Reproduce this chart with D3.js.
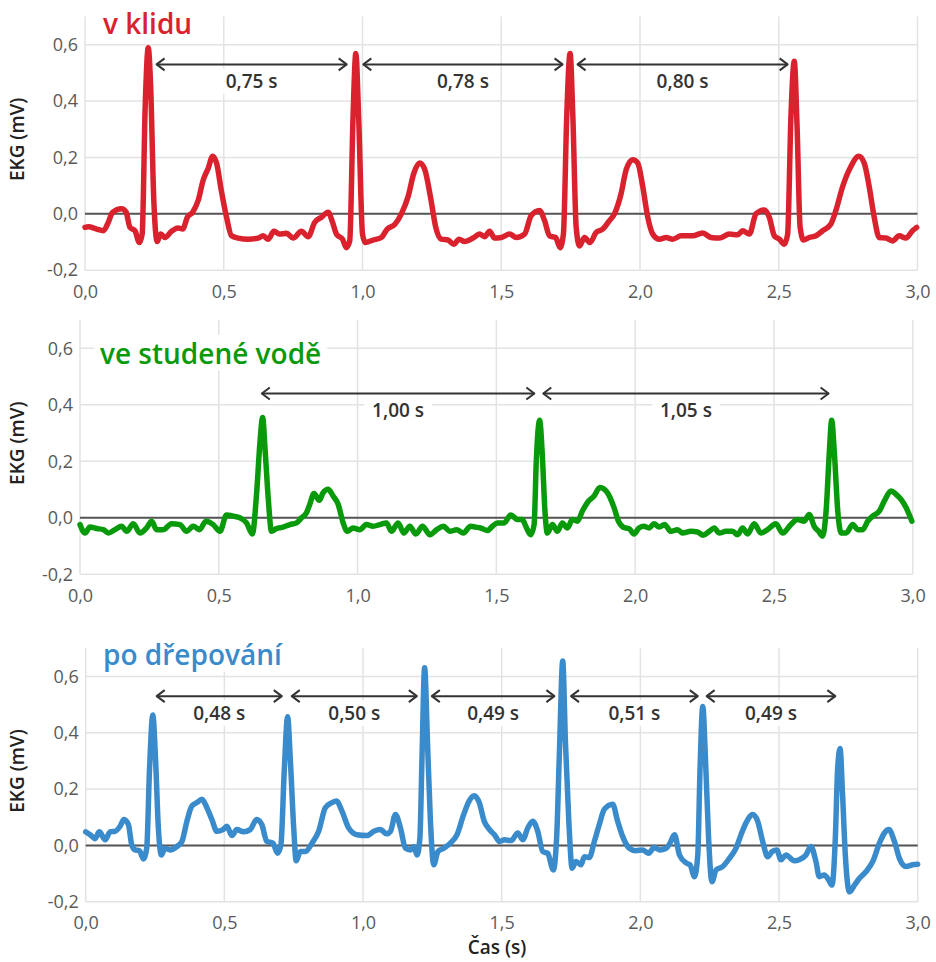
<!DOCTYPE html>
<html>
<head>
<meta charset="utf-8">
<script src="https://cdn.jsdelivr.net/npm/d3@7"></script>
<style>
  html, body { margin: 0; padding: 0; background: #ffffff; }
  svg { display: block; }
  text { font-family: "Open Sans", "Noto Sans", "DejaVu Sans", sans-serif; }
</style>
</head>
<body>
<svg id="chart" width="936" height="962"></svg>
<script>
// ---------------- DATA ----------------
const panelTitles = ["v klidu", "ve studené vodě", "po dřepování"];
const xTicks = [0, 0.5, 1.0, 1.5, 2.0, 2.5, 3.0];
const yTicks = [-0.2, 0.0, 0.2, 0.4, 0.6];
const yLabel = "EKG (mV)";
const xLabel = "Čas (s)";

// v klidu : [time (s), EKG (mV)]
const restData = [
[0.000,-0.048],[0.012,-0.046],[0.042,-0.054],[0.066,-0.060],[0.084,-0.030],[0.096,0.000],[0.114,0.014],[0.132,0.018],
[0.148,0.006],[0.162,-0.048],[0.180,-0.060],[0.196,-0.102],[0.206,-0.072],[0.217,0.383],[0.228,0.589],[0.236,0.467],
[0.248,0.048],[0.260,-0.098],[0.273,-0.072],[0.288,-0.084],[0.312,-0.062],[0.336,-0.050],[0.352,-0.054],[0.369,-0.012],
[0.388,0.006],[0.408,0.048],[0.426,0.120],[0.444,0.162],[0.460,0.204],[0.474,0.180],[0.492,0.078],[0.510,-0.012],
[0.528,-0.078],[0.552,-0.086],[0.588,-0.090],[0.624,-0.086],[0.642,-0.078],[0.660,-0.090],[0.681,-0.062],[0.702,-0.072],
[0.726,-0.069],[0.750,-0.086],[0.780,-0.062],[0.804,-0.081],[0.828,-0.030],[0.852,-0.012],[0.876,0.006],[0.892,-0.030],
[0.906,-0.072],[0.928,-0.090],[0.942,-0.120],[0.954,-0.096],[0.966,0.347],[0.976,0.569],[0.986,0.347],[1.000,-0.072],
[1.010,-0.102],[1.038,-0.093],[1.068,-0.084],[1.089,-0.054],[1.116,-0.038],[1.140,0.000],[1.164,0.060],[1.185,0.144],
[1.206,0.180],[1.224,0.158],[1.245,0.060],[1.264,-0.048],[1.284,-0.090],[1.308,-0.093],[1.329,-0.108],[1.348,-0.090],
[1.368,-0.098],[1.398,-0.086],[1.422,-0.072],[1.440,-0.081],[1.458,-0.062],[1.476,-0.086],[1.500,-0.084],[1.530,-0.072],
[1.554,-0.084],[1.584,-0.072],[1.608,-0.006],[1.638,0.012],[1.656,-0.024],[1.674,-0.078],[1.696,-0.084],[1.712,-0.120],
[1.724,-0.072],[1.736,0.347],[1.748,0.569],[1.758,0.347],[1.770,-0.048],[1.782,-0.114],[1.800,-0.084],[1.820,-0.102],
[1.842,-0.066],[1.866,-0.054],[1.890,-0.024],[1.908,0.000],[1.932,0.072],[1.950,0.156],[1.974,0.192],[1.992,0.180],
[2.010,0.096],[2.028,-0.012],[2.046,-0.072],[2.070,-0.090],[2.094,-0.084],[2.118,-0.090],[2.148,-0.078],[2.190,-0.078],
[2.226,-0.068],[2.256,-0.084],[2.286,-0.086],[2.322,-0.072],[2.352,-0.074],[2.370,-0.060],[2.394,-0.072],[2.418,0.000],
[2.448,0.014],[2.466,-0.012],[2.484,-0.078],[2.502,-0.090],[2.520,-0.108],[2.532,-0.072],[2.544,0.347],[2.556,0.541],
[2.566,0.311],[2.577,-0.048],[2.589,-0.093],[2.610,-0.084],[2.634,-0.078],[2.658,-0.060],[2.688,-0.036],[2.706,0.012],
[2.730,0.096],[2.760,0.168],[2.788,0.204],[2.808,0.180],[2.826,0.096],[2.844,-0.012],[2.862,-0.084],[2.886,-0.086],
[2.910,-0.096],[2.934,-0.078],[2.958,-0.086],[2.982,-0.060],[2.997,-0.048]
];

// ve studené vodě
const coldData = [
[0.000,-0.024],[0.018,-0.054],[0.036,-0.033],[0.060,-0.038],[0.084,-0.042],[0.102,-0.054],[0.126,-0.042],[0.150,-0.030],
[0.168,-0.048],[0.192,-0.021],[0.216,-0.054],[0.240,-0.036],[0.258,-0.012],[0.276,-0.042],[0.300,-0.042],[0.330,-0.021],
[0.360,-0.024],[0.384,-0.048],[0.408,-0.030],[0.430,-0.042],[0.454,-0.012],[0.480,-0.024],[0.504,-0.048],[0.528,0.010],
[0.552,0.006],[0.576,0.000],[0.600,-0.018],[0.621,-0.057],[0.636,0.083],[0.648,0.262],[0.658,0.355],[0.667,0.238],
[0.678,0.071],[0.690,-0.048],[0.708,-0.038],[0.732,-0.033],[0.756,-0.024],[0.780,-0.018],[0.798,0.000],[0.816,0.018],
[0.828,0.048],[0.843,0.086],[0.862,0.062],[0.876,0.089],[0.894,0.101],[0.912,0.077],[0.930,0.048],[0.948,-0.018],
[0.963,-0.048],[0.984,-0.036],[1.008,-0.042],[1.032,-0.024],[1.056,-0.030],[1.080,-0.024],[1.104,-0.018],[1.122,-0.048],
[1.146,-0.018],[1.167,-0.054],[1.188,-0.030],[1.210,-0.057],[1.234,-0.030],[1.261,-0.060],[1.285,-0.042],[1.309,-0.030],
[1.333,-0.048],[1.357,-0.042],[1.381,-0.054],[1.407,-0.030],[1.425,-0.033],[1.443,-0.036],[1.468,-0.045],[1.486,-0.030],
[1.504,-0.018],[1.528,-0.018],[1.552,0.010],[1.576,-0.006],[1.594,-0.006],[1.606,-0.030],[1.624,-0.060],[1.636,-0.024],
[1.644,0.202],[1.656,0.345],[1.666,0.214],[1.675,0.024],[1.684,-0.054],[1.702,-0.024],[1.720,-0.048],[1.738,-0.018],
[1.756,-0.036],[1.774,-0.006],[1.792,-0.012],[1.810,0.024],[1.828,0.054],[1.852,0.077],[1.873,0.107],[1.900,0.089],
[1.924,0.036],[1.940,-0.012],[1.964,-0.036],[1.978,-0.038],[1.996,-0.057],[2.014,-0.036],[2.032,-0.030],[2.050,-0.036],
[2.068,-0.021],[2.087,-0.033],[2.106,-0.024],[2.129,-0.048],[2.153,-0.042],[2.171,-0.054],[2.201,-0.048],[2.225,-0.050],
[2.245,-0.062],[2.267,-0.048],[2.285,-0.036],[2.303,-0.054],[2.327,-0.048],[2.351,-0.048],[2.369,-0.060],[2.387,-0.036],
[2.405,-0.057],[2.429,-0.021],[2.453,-0.054],[2.477,-0.042],[2.507,-0.021],[2.531,-0.054],[2.561,-0.024],[2.585,-0.006],
[2.609,-0.012],[2.627,0.012],[2.645,-0.030],[2.661,-0.048],[2.675,-0.065],[2.688,0.024],[2.700,0.238],[2.708,0.345],
[2.718,0.226],[2.730,0.024],[2.742,-0.054],[2.760,-0.054],[2.784,-0.024],[2.802,-0.042],[2.820,-0.042],[2.838,-0.012],
[2.856,0.006],[2.880,0.024],[2.898,0.060],[2.922,0.095],[2.940,0.083],[2.958,0.065],[2.976,0.036],[2.997,-0.012]
];

// po dřepování
const squatData = [
[0.000,0.048],[0.016,0.038],[0.034,0.024],[0.049,0.048],[0.070,0.020],[0.088,0.048],[0.106,0.050],[0.124,0.068],
[0.138,0.092],[0.154,0.074],[0.166,0.002],[0.178,-0.016],[0.194,-0.019],[0.208,-0.048],[0.220,-0.010],[0.230,0.266],
[0.242,0.463],[0.252,0.302],[0.262,0.062],[0.273,-0.034],[0.286,-0.010],[0.304,-0.016],[0.329,-0.004],[0.347,0.014],
[0.365,0.086],[0.383,0.140],[0.401,0.152],[0.419,0.164],[0.437,0.134],[0.455,0.092],[0.473,0.050],[0.495,0.056],
[0.509,0.068],[0.527,0.035],[0.545,0.056],[0.569,0.048],[0.593,0.056],[0.617,0.092],[0.635,0.074],[0.653,0.014],
[0.675,0.008],[0.692,-0.028],[0.704,0.002],[0.716,0.266],[0.728,0.457],[0.738,0.302],[0.750,0.062],[0.759,-0.055],
[0.774,-0.022],[0.792,-0.022],[0.816,0.008],[0.840,0.050],[0.864,0.134],[0.888,0.152],[0.904,0.158],[0.924,0.122],
[0.948,0.062],[0.978,0.038],[1.014,0.035],[1.039,0.050],[1.063,0.056],[1.085,0.041],[1.099,0.050],[1.117,0.110],
[1.135,0.062],[1.153,-0.010],[1.171,-0.016],[1.183,-0.004],[1.195,-0.034],[1.205,0.026],[1.213,0.326],[1.222,0.631],
[1.233,0.350],[1.243,0.086],[1.255,-0.069],[1.270,-0.022],[1.291,-0.010],[1.315,0.008],[1.339,0.038],[1.363,0.110],
[1.383,0.158],[1.401,0.176],[1.419,0.152],[1.437,0.086],[1.456,0.056],[1.474,0.038],[1.492,0.014],[1.510,0.020],
[1.534,0.017],[1.558,0.044],[1.576,0.020],[1.594,0.062],[1.612,0.086],[1.630,0.050],[1.648,-0.022],[1.666,-0.028],
[1.686,-0.087],[1.698,0.026],[1.708,0.326],[1.720,0.655],[1.730,0.362],[1.742,0.086],[1.754,-0.081],[1.768,-0.057],
[1.786,-0.069],[1.798,-0.040],[1.816,-0.043],[1.834,0.014],[1.852,0.074],[1.870,0.128],[1.900,0.146],[1.918,0.086],
[1.936,0.032],[1.960,-0.010],[1.984,-0.019],[2.008,-0.016],[2.030,-0.028],[2.050,-0.007],[2.069,-0.016],[2.093,-0.010],
[2.107,0.008],[2.123,0.038],[2.141,-0.034],[2.166,-0.063],[2.179,-0.069],[2.195,-0.111],[2.207,-0.034],[2.215,0.266],
[2.225,0.493],[2.235,0.302],[2.246,0.026],[2.258,-0.129],[2.273,-0.087],[2.297,-0.075],[2.321,-0.046],[2.345,-0.010],
[2.363,0.038],[2.381,0.080],[2.405,0.110],[2.423,0.086],[2.441,0.014],[2.459,-0.040],[2.475,-0.022],[2.492,-0.016],
[2.507,-0.051],[2.525,-0.034],[2.555,-0.055],[2.573,-0.051],[2.597,-0.034],[2.615,-0.004],[2.633,-0.057],[2.645,-0.111],
[2.663,-0.105],[2.679,-0.123],[2.691,-0.141],[2.703,0.026],[2.711,0.266],[2.720,0.344],[2.729,0.182],[2.739,-0.034],
[2.754,-0.165],[2.772,-0.141],[2.790,-0.117],[2.814,-0.093],[2.838,-0.057],[2.862,0.008],[2.880,0.044],[2.896,0.056],
[2.916,0.014],[2.934,-0.046],[2.958,-0.075],[2.982,-0.069],[3.000,-0.067]
];

// RR interval arrows: [start s, end s], at level (mV), and labels
const restArrows  = [[0.258, 0.943], [1.003, 1.721], [1.775, 2.532]];
const restLabels  = ["0,75 s", "0,78 s", "0,80 s"];
const coldArrows  = [[0.655, 1.637], [1.669, 2.697]];
const coldLabels  = ["1,00 s", "1,05 s"];
const squatArrows = [[0.256, 0.707], [0.743, 1.194], [1.248, 1.690], [1.750, 2.207], [2.239, 2.703]];
const squatLabels = ["0,48 s", "0,50 s", "0,49 s", "0,51 s", "0,49 s"];
const arrowLevels = [0.53, 0.44, 0.53];

// ---------------- LAYOUT / STYLE ----------------
const colors = ["#d9222e", "#089a0a", "#3a8bcb"];
const layout = [
  { left: 85,   right: 917.5, top: 16.5,  bottom: 270.2, titleX: 103, titleY: 34 },
  { left: 80,   right: 912.7, top: 320,   bottom: 574.3, titleX: 100, titleY: 364 },
  { left: 85.7, right: 917.7, top: 648.3, bottom: 901.7, titleX: 103, titleY: 665 }
];
const series = [restData, coldData, squatData];
const arrows = [restArrows, coldArrows, squatArrows];
const labels = [restLabels, coldLabels, squatLabels];

const locale = d3.formatLocale({ decimal: ",", thousands: " ", grouping: [3], currency: ["", ""], minus: "-" });
const fmt = locale.format(".1f");

const svg = d3.select("#chart");

layout.forEach((L, i) => {
  const x = d3.scaleLinear().domain([0, 3]).range([L.left, L.right]);
  const y = d3.scaleLinear().domain([-0.2, 0.7]).range([L.bottom, L.top]);
  const g = svg.append("g");

  // grid
  g.append("g").selectAll("line").data(xTicks).join("line")
    .attr("x1", d => x(d)).attr("x2", d => x(d))
    .attr("y1", y(0.7)).attr("y2", y(-0.2))
    .attr("stroke", "#e3e3e3").attr("stroke-width", 1.5);
  g.append("g").selectAll("line").data(yTicks).join("line")
    .attr("x1", x(0)).attr("x2", x(3))
    .attr("y1", d => y(d)).attr("y2", d => y(d))
    .attr("stroke", "#e3e3e3").attr("stroke-width", 1.5);

  // axes (labels only)
  const yAxis = d3.axisLeft(y).tickValues(yTicks).tickFormat(fmt).tickSize(0).tickPadding(7);
  const ya = g.append("g").attr("transform", `translate(${L.left},0)`).call(yAxis);
  const xAxis = d3.axisBottom(x).tickValues(xTicks).tickFormat(fmt).tickSize(0).tickPadding(15);
  const xa = g.append("g").attr("transform", `translate(0,${L.bottom})`).call(xAxis);
  [ya, xa].forEach(a => {
    a.select(".domain").remove();
    a.selectAll("text").attr("font-size", 18).attr("fill", "#5a5a5a")
      .attr("font-family", '"Open Sans", "Noto Sans", sans-serif');
  });

  // zero line
  g.append("line")
    .attr("x1", x(0)).attr("x2", x(3)).attr("y1", y(0)).attr("y2", y(0))
    .attr("stroke", "#555").attr("stroke-width", 2);

  // y label
  g.append("text")
    .attr("transform", `translate(17,${(L.top + L.bottom) / 2 - 4}) rotate(-90)`)
    .attr("text-anchor", "middle").attr("dominant-baseline", "central")
    .attr("font-size", 19).attr("font-weight", 600).attr("fill", "#222")
    .text(yLabel);

  // title with white background
  const tg = g.append("g");
  const tt = tg.append("text")
    .attr("x", L.titleX).attr("y", L.titleY)
    .attr("font-size", 28).attr("font-weight", 600).attr("fill", colors[i])
    .text(panelTitles[i]);
  const tb = tt.node().getBBox();
  tg.insert("rect", "text")
    .attr("x", tb.x - 6).attr("y", tb.y + 1).attr("width", tb.width + 12).attr("height", tb.height - 2)
    .attr("fill", "#fff").attr("opacity", 0.9);

  // arrows
  const ay = y(arrowLevels[i]);
  const ag = g.append("g");
  arrows[i].forEach((a, k) => {
    const x1 = x(a[0]), x2 = x(a[1]);
    ag.append("line").attr("x1", x1).attr("x2", x2).attr("y1", ay).attr("y2", ay)
      .attr("stroke", "#333").attr("stroke-width", 2);
    ag.append("path").attr("d", `M${x1 + 8},${ay - 6}L${x1},${ay}L${x1 + 8},${ay + 6}`)
      .attr("fill", "none").attr("stroke", "#333").attr("stroke-width", 2).attr("stroke-linejoin", "round");
    ag.append("path").attr("d", `M${x2 - 8},${ay - 6}L${x2},${ay}L${x2 - 8},${ay + 6}`)
      .attr("fill", "none").attr("stroke", "#333").attr("stroke-width", 2).attr("stroke-linejoin", "round");
    const lg = ag.append("g");
    const lt = lg.append("text")
      .attr("x", (x1 + x2) / 2).attr("y", ay + 24)
      .attr("text-anchor", "middle")
      .attr("font-size", 19).attr("font-weight", 600).attr("fill", "#333")
      .text(labels[i][k]);
    const lb = lt.node().getBBox();
    lg.insert("rect", "text")
      .attr("x", lb.x - 8).attr("y", lb.y).attr("width", lb.width + 16).attr("height", lb.height)
      .attr("fill", "#fff").attr("opacity", 0.9);
  });

  // EKG line
  const line = d3.line().x(d => x(d[0])).y(d => y(d[1])).curve(d3.curveMonotoneX);
  g.append("path").datum(series[i])
    .attr("d", line)
    .attr("fill", "none").attr("stroke", colors[i]).attr("stroke-width", 5.5)
    .attr("stroke-linejoin", "round").attr("stroke-linecap", "round");
});

// x axis title
svg.append("text")
  .attr("x", 497).attr("y", 954)
  .attr("text-anchor", "middle")
  .attr("font-size", 19).attr("font-weight", 600).attr("fill", "#222")
  .text(xLabel);
</script>
</body>
</html>
